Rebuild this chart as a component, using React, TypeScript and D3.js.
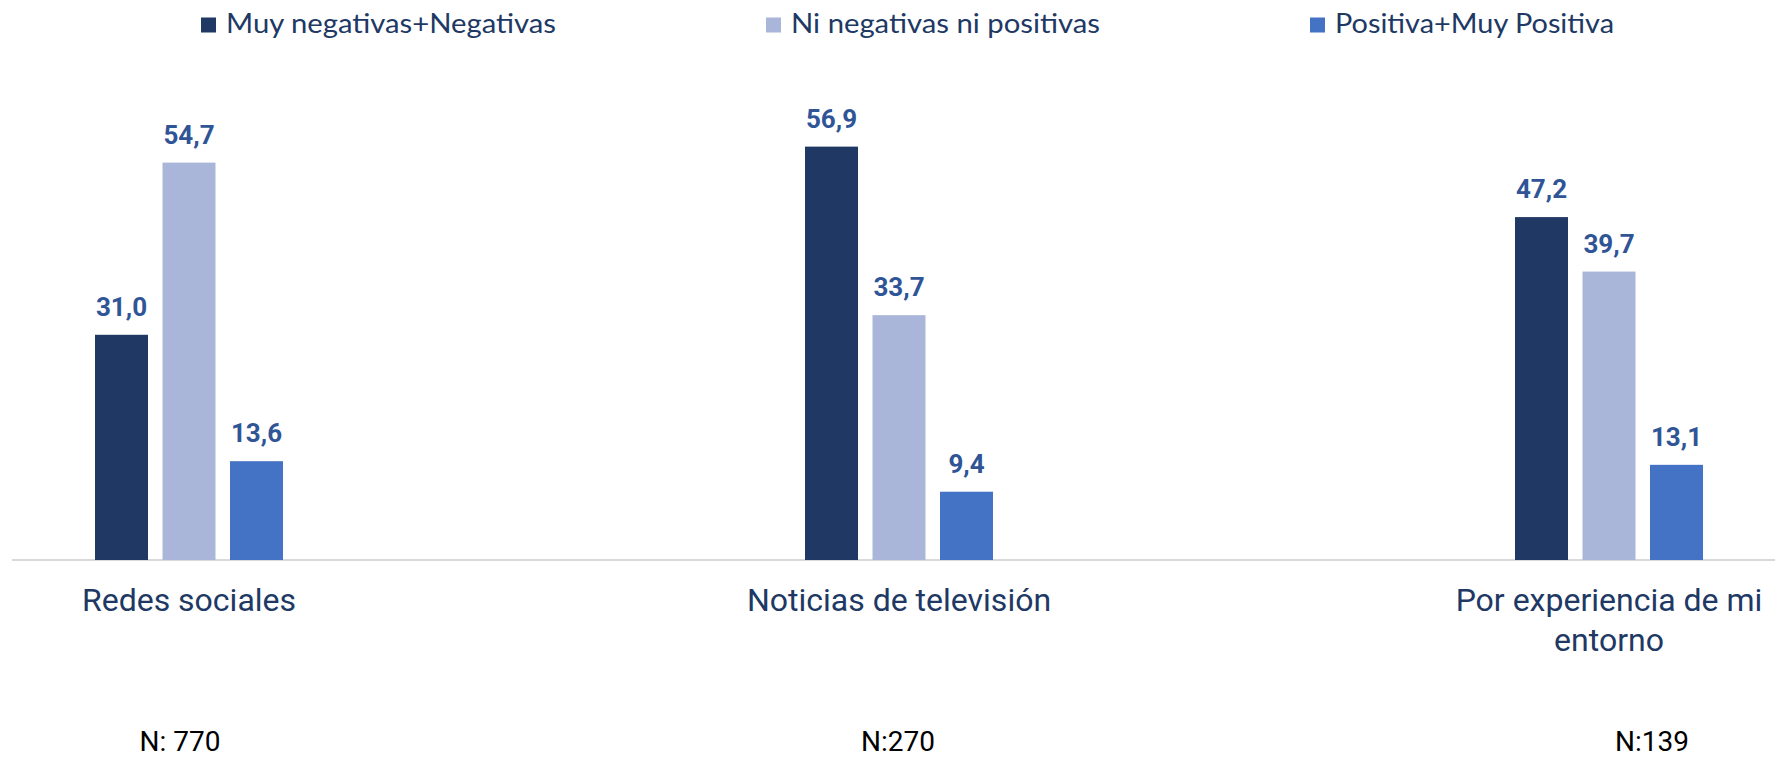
import React from "react";
import * as d3 from "d3";

const categories = ["Redes sociales", "Noticias de televisión", "Por experiencia de mi entorno"];
const seriesNames = ["Muy negativas+Negativas", "Ni negativas ni positivas", "Positiva+Muy Positiva"];
const negativas = [31.0, 56.9, 47.2];
const neutras = [54.7, 33.7, 39.7];
const positivas = [13.6, 9.4, 13.1];
const sampleLabels = ["N: 770", "N:270", "N:139"];

const W = 1775;
const H = 758;
const colors = ["#203864", "#A9B6DA", "#4472C4"];

function wrap(text: string, maxChars: number): string[] {
  const words = text.split(" ");
  const lines: string[] = [];
  let cur = "";
  for (const w of words) {
    const next = cur ? cur + " " + w : w;
    if (next.length > maxChars && cur) {
      lines.push(cur);
      cur = w;
    } else cur = next;
  }
  if (cur) lines.push(cur);
  return lines;
}

export default function App() {
  const values = [negativas, neutras, positivas];
  const x0 = d3.scaleBand<string>().domain(categories).range([-166, 1964]).padding(0);
  const x1 = d3
    .scaleBand<string>()
    .domain(seriesNames)
    .range([-101.25, 101.25])
    .paddingInner(0.215)
    .paddingOuter(0.1075);
  const y = d3.scaleLinear().domain([0, 60]).range([560, 560 - 60 * 7.265]);
  const fmt = (v: number) => d3.format(".1f")(v).replace(".", ",");

  const legendX = [201, 766, 1310];
  const legendW = [330, 309, 279];
  const nLabelX = [180, 898, 1652];

  return (
    <svg
      width={W}
      height={H}
      style={{ position: "absolute", left: 0, top: 0, background: "#fff" }}
      fontFamily="Roboto, sans-serif"
    >
      <rect x={0} y={0} width={W} height={H} fill="#fff" />
      {/* legend */}
      {seriesNames.map((s, i) => (
        <g key={s}>
          <rect x={legendX[i]} y={17.5} width={15} height={15} fill={colors[i]} />
          <text
            x={legendX[i] + 25}
            y={33}
            fontFamily="Lato, sans-serif"
            fontSize={27}
            fill="#203864"
            textLength={legendW[i]}
            lengthAdjust="spacingAndGlyphs"
          >
            {s}
          </text>
        </g>
      ))}
      {/* axis line */}
      <line x1={12} x2={W} y1={y(0)} y2={y(0)} stroke="#D9D9D9" strokeWidth={2} />
      {/* bars */}
      {categories.map((c, ci) => {
        const cx = (x0(c) as number) + x0.bandwidth() / 2;
        return (
          <g key={c}>
            {seriesNames.map((s, si) => {
              const v = values[si][ci];
              const bx = cx + (x1(s) as number);
              return (
                <g key={s}>
                  <rect
                    x={bx}
                    y={y(v)}
                    width={x1.bandwidth()}
                    height={y(0) - y(v)}
                    fill={colors[si]}
                  />
                  <text
                    x={bx + x1.bandwidth() / 2}
                    y={y(v) - 19}
                    textAnchor="middle"
                    fontSize={26}
                    fontWeight="bold"
                    fill="#2F5597"
                  >
                    {fmt(v)}
                  </text>
                </g>
              );
            })}
            {wrap(c, 22).map((line, li) => (
              <text
                key={li}
                x={cx}
                y={611 + li * 40}
                textAnchor="middle"
                fontSize={32}
                fill="#203864"
              >
                {line}
              </text>
            ))}
          </g>
        );
      })}
      {/* sample sizes */}
      {sampleLabels.map((t, i) => (
        <text key={t} x={nLabelX[i]} y={751} textAnchor="middle" fontSize={28} fill="#000">
          {t}
        </text>
      ))}
    </svg>
  );
}
